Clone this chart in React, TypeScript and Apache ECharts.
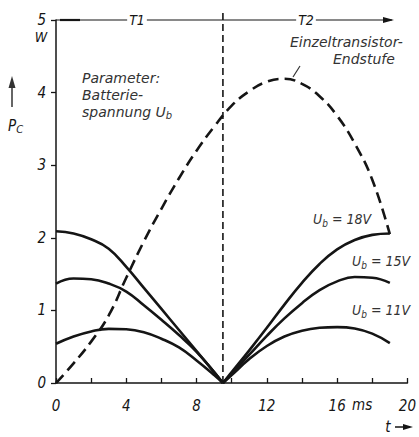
import React, { useEffect, useRef } from "react";
import * as echarts from "echarts";

// time points (ms)
const tLeft = [0, 1, 2, 3, 4, 5, 6, 7, 8, 9, 9.5];
const tRight = [9.5, 10, 11, 12, 13, 14, 15, 16, 17, 18, 19];
const tDash = [0, 1, 2, 3, 4, 5, 6, 7, 8, 9, 10, 11, 12, 13, 14, 15, 16, 17, 18, 19];

// collector power P_C (W), push-pull stage, per battery voltage
const u18Left = [2.09, 2.06, 1.98, 1.85, 1.6, 1.31, 1.02, 0.73, 0.44, 0.15, 0];
const u18Right = [0, 0.15, 0.45, 0.76, 1.08, 1.38, 1.64, 1.84, 1.97, 2.04, 2.06];
const u15Left = [1.37, 1.44, 1.43, 1.37, 1.26, 1.07, 0.87, 0.66, 0.43, 0.15, 0];
const u15Right = [0, 0.13, 0.39, 0.65, 0.89, 1.1, 1.28, 1.4, 1.46, 1.45, 1.38];
const u11Left = [0.54, 0.64, 0.71, 0.745, 0.74, 0.7, 0.61, 0.49, 0.31, 0.11, 0];
const u11Right = [0, 0.11, 0.33, 0.51, 0.64, 0.72, 0.76, 0.77, 0.75, 0.68, 0.55];
// single transistor stage (dashed)
const single = [0, 0.27, 0.57, 0.93, 1.45, 1.95, 2.4, 2.82, 3.2, 3.53, 3.82, 4.02, 4.15, 4.19, 4.12, 3.95, 3.68, 3.3, 2.8, 2.05];

// half-period boundary
const tBoundary = 9.5;

const xTickLabels: Record<number, string> = { 0: "0", 4: "4", 8: "8", 12: "12", 16: "16", 20: "20" };
const yTickLabels = ["0", "1", "2", "3", "4", "5"];

const FONT = "'DejaVu Sans Condensed', 'DejaVu Sans', sans-serif";
const NOTE_FONT = "'DejaVu Sans', sans-serif";
const INK = "#151515";

const zip = (xs: number[], ys: number[]) => xs.map((x, i) => [x, ys[i]]);

export default function App() {
  const ref = useRef<HTMLDivElement>(null);
  useEffect(() => {
    if (!ref.current) return;
    const chart = echarts.init(ref.current, null, { renderer: "svg" });
    const solid = (data: number[][]) => ({
      type: "line",
      data,
      smooth: 0.45,
      showSymbol: false,
      lineStyle: { color: INK, width: 2.6 },
    });
    const rich = {
      u: { fontFamily: FONT, fontStyle: "italic", fontSize: 14, fill: "#333" },
      s: { fontFamily: FONT, fontStyle: "italic", fontSize: 10, fill: "#333", verticalAlign: "bottom", padding: [8, 0, 0, 0] },
    };
    const noteStyle = { fontFamily: NOTE_FONT, fontStyle: "italic", fontSize: 14, fill: "#333", lineHeight: 17 };
    chart.setOption({
      animation: false,
      backgroundColor: "#ffffff",
      grid: { left: 56, right: 6, top: 20, bottom: 54 },
      xAxis: {
        type: "value",
        min: 0,
        max: 20,
        interval: 2,
        axisLine: { lineStyle: { color: INK, width: 1.5 } },
        axisTick: { inside: true, length: 5, lineStyle: { color: INK, width: 1.3 } },
        splitLine: { show: false },
        axisLabel: {
          margin: 15,
          color: INK,
          fontFamily: FONT,
          fontStyle: "italic",
          fontSize: 15,
          formatter: (v: number) => xTickLabels[v] ?? "",
        },
      },
      yAxis: {
        type: "value",
        min: 0,
        max: 5,
        interval: 1,
        axisLine: { show: true, lineStyle: { color: INK, width: 1.5 } },
        axisTick: { show: true, inside: false, length: 5, lineStyle: { color: INK, width: 1.3 } },
        splitLine: { show: false },
        axisLabel: {
          margin: 10,
          color: INK,
          fontFamily: FONT,
          fontStyle: "italic",
          fontSize: 15,
          formatter: (v: number) => yTickLabels[v] ?? "",
        },
      },
      series: [
        solid(zip(tLeft, u18Left)),
        solid(zip(tRight, u18Right)),
        solid(zip(tLeft, u15Left)),
        solid(zip(tRight, u15Right)),
        solid(zip(tLeft, u11Left)),
        solid(zip(tRight, u11Right)),
        {
          type: "line",
          data: zip(tDash, single),
          smooth: 0.45,
          showSymbol: false,
          lineStyle: { color: INK, width: 2.6, type: [11, 6] },
        },
        {
          type: "line",
          data: [[tBoundary, 0], [tBoundary, 5.15]],
          clip: false,
          showSymbol: false,
          lineStyle: { color: INK, width: 1.6, type: [7, 4] },
        },
      ],
      graphic: [
        // top time-period line with arrow
        { type: "line", shape: { x1: 56, y1: 20, x2: 392, y2: 20 }, style: { stroke: INK, lineWidth: 1.2 } },
        { type: "line", shape: { x1: 60, y1: 20, x2: 80, y2: 20 }, style: { stroke: INK, lineWidth: 2.2 } },
        { type: "polygon", shape: { points: [[394, 20], [383, 17], [383, 23]] }, style: { fill: INK } },
        { type: "text", x: 137, y: 20, style: { text: "T1", fontFamily: FONT, fontStyle: "italic", fontSize: 14, fill: INK, align: "center", verticalAlign: "middle", backgroundColor: "#fff", padding: [0, 2] } },
        { type: "text", x: 306, y: 20, style: { text: "T2", fontFamily: FONT, fontStyle: "italic", fontSize: 14, fill: INK, align: "center", verticalAlign: "middle", backgroundColor: "#fff", padding: [0, 2] } },
        // unit and axis name
        { type: "text", x: 41, y: 37, style: { text: "W", fontFamily: FONT, fontStyle: "italic", fontSize: 14, fill: INK, align: "center", verticalAlign: "middle" } },
        { type: "line", shape: { x1: 12, y1: 107, x2: 12, y2: 86 }, style: { stroke: "#333", lineWidth: 1.5 } },
        { type: "polygon", shape: { points: [[12, 76], [8.5, 88], [15.5, 88]] }, style: { fill: "#333" } },
        { type: "text", x: 8, y: 126, style: { text: "{p|P}{s|C}", verticalAlign: "middle", rich: { p: { fontFamily: FONT, fontStyle: "italic", fontSize: 15, fill: INK }, s: { fontFamily: FONT, fontStyle: "italic", fontSize: 11, fill: INK, padding: [6, 0, 0, 0] } } } },
        // parameter note (one multi-line text)
        {
          type: "text",
          x: 82,
          y: 69,
          style: {
            text: "{n|Parameter:}\n{n|Batterie-}\n{n|spannung U}{s|b}",
            verticalAlign: "top",
            rich: {
              n: noteStyle,
              s: { fontFamily: NOTE_FONT, fontStyle: "italic", fontSize: 10, fill: "#333", lineHeight: 17, verticalAlign: "bottom", padding: [7, 0, 0, 0] },
            },
          },
        },
        // single stage note (one multi-line text)
        {
          type: "text",
          x: 290,
          y: 33,
          style: {
            text: "{n|Einzeltransistor-}\n{e|Endstufe}",
            verticalAlign: "top",
            rich: { n: noteStyle, e: { ...noteStyle, padding: [0, 0, 0, 43] } },
          },
        },
        { type: "line", shape: { x1: 300, y1: 66, x2: 293, y2: 77 }, style: { stroke: "#333", lineWidth: 1.2 } },
        // unit of time axis next to the 16 tick
        { type: "text", x: 352, y: 405, style: { text: "ms", fontFamily: FONT, fontStyle: "italic", fontSize: 15, fill: INK, verticalAlign: "middle" } },
        // curve labels
        { type: "text", x: 313, y: 219, style: { text: "{u|U}{s|b}{u| = 18V}", verticalAlign: "middle", rich } },
        { type: "text", x: 352, y: 261, style: { text: "{u|U}{s|b}{u| = 15V}", verticalAlign: "middle", rich } },
        { type: "text", x: 352, y: 310, style: { text: "{u|U}{s|b}{u| = 11V}", verticalAlign: "middle", rich } },
        // time axis name
        { type: "text", x: 388, y: 427, style: { text: "t", fontFamily: FONT, fontStyle: "italic", fontSize: 15, fill: INK, align: "center", verticalAlign: "middle" } },
        { type: "line", shape: { x1: 395, y1: 427, x2: 404, y2: 427 }, style: { stroke: INK, lineWidth: 1.5 } },
        { type: "polygon", shape: { points: [[413, 427], [403, 424], [403, 430]] }, style: { fill: INK } },
      ],
    });
    return () => chart.dispose();
  }, []);
  return <div ref={ref} style={{ position: "absolute", left: 0, top: 0, width: 419, height: 437 }} />;
}
